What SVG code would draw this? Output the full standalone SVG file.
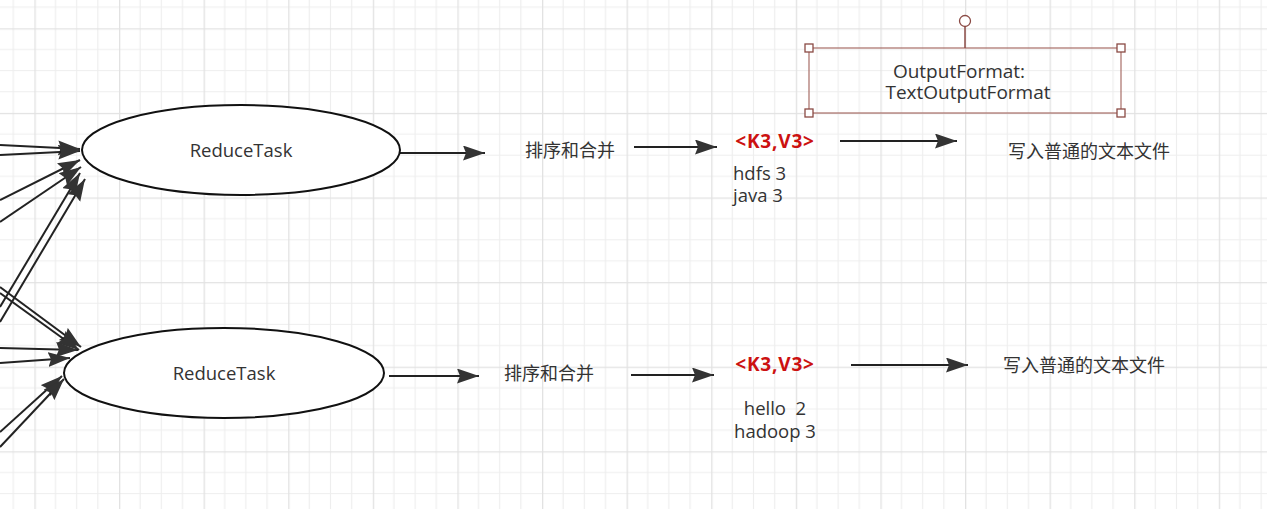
<svg xmlns="http://www.w3.org/2000/svg" width="1267" height="509" viewBox="0 0 1267 509">
<defs>
<pattern id="grid" patternUnits="userSpaceOnUse" x="34.4" y="28.3" width="84.6" height="84.6">
<path d="M21.15 0V84.6M42.3 0V84.6M63.45 0V84.6M0 21.15H84.6M0 42.3H84.6M0 63.45H84.6" stroke="#eeeeee" stroke-width="1.2" fill="none"/>
<path d="M0.6 0V84.6M0 0.6H84.6" stroke="#e2e2e2" stroke-width="1.4" fill="none"/>
</pattern>
<marker id="arr" markerUnits="userSpaceOnUse" markerWidth="24" markerHeight="16" refX="22" refY="7.5" orient="auto">
<path d="M0 0L22 7.5L0 15L3 7.5Z" fill="#333"/>
</marker>
</defs>
<style>
.edge{stroke:#222;stroke-width:2;fill:none;marker-end:url(#arr)}
.node{fill:#fff;stroke:#111;stroke-width:2}
.t{font-family:"Open Sans","Liberation Sans","Noto Sans CJK SC",sans-serif;font-size:18.5px;fill:#333}
.c{text-anchor:middle}
.cjk{font-family:"Noto Sans CJK SC",sans-serif;font-size:18px;fill:#333}
.kv{font-family:"Open Sans","Liberation Sans",sans-serif;font-size:19px;letter-spacing:0.8px;font-weight:bold;fill:#cc1111;text-anchor:middle}
.h{fill:#fff;stroke:#8a4a44;stroke-width:1.3}
</style>
<rect width="1267" height="509" fill="#fff"/>
<rect width="1267" height="509" fill="url(#grid)"/>
<g id="connectors">
<line class="edge" x1="0" y1="145" x2="80" y2="149"/>
<line class="edge" x1="0" y1="155" x2="80" y2="151"/>
<line class="edge" x1="0" y1="200" x2="80" y2="160"/>
<line class="edge" x1="0" y1="222" x2="81" y2="167"/>
<line class="edge" x1="0" y1="307" x2="80" y2="173"/>
<line class="edge" x1="0" y1="322" x2="85" y2="179"/>
<line class="edge" x1="0" y1="287" x2="81" y2="347"/>
<line class="edge" x1="0" y1="293" x2="79" y2="350"/>
<line class="edge" x1="0" y1="348" x2="78" y2="350"/>
<line class="edge" x1="0" y1="363" x2="70" y2="358"/>
<line class="edge" x1="0" y1="432" x2="62" y2="376"/>
<line class="edge" x1="0" y1="447" x2="64" y2="379"/>
<line class="edge" x1="400" y1="153" x2="485" y2="153"/>
<line class="edge" x1="634" y1="147" x2="717" y2="147"/>
<line class="edge" x1="840" y1="141" x2="957" y2="141"/>
<line class="edge" x1="389" y1="376" x2="479" y2="376"/>
<line class="edge" x1="631" y1="375" x2="714" y2="375"/>
<line class="edge" x1="851" y1="365" x2="968" y2="365"/>
</g>
<g id="reduce1">
<ellipse class="node" cx="241" cy="150" rx="159" ry="45"/>
<text class="t c" x="241" y="157">ReduceTask</text>
</g>
<g id="reduce2">
<ellipse class="node" cx="224" cy="373" rx="160" ry="45"/>
<text class="t c" x="224" y="380">ReduceTask</text>
</g>
<g id="sort1"><text class="cjk c" x="570" y="157">排序和合并</text></g>
<g id="sort2"><text class="cjk c" x="549" y="380">排序和合并</text></g>
<g id="kv1">
<text class="kv" x="775" y="148">&lt;K3,V3&gt;</text>
<text class="t" x="733" y="180">hdfs 3</text>
<text class="t" x="733" y="202">java 3</text>
</g>
<g id="kv2">
<text class="kv" x="775" y="371">&lt;K3,V3&gt;</text>
<text class="t c" x="775" y="415" xml:space="preserve">hello  2</text>
<text class="t c" x="775" y="438">hadoop 3</text>
</g>
<g id="write1"><text class="cjk c" x="1089" y="158">写入普通的文本文件</text></g>
<g id="write2"><text class="cjk c" x="1084" y="372">写入普通的文本文件</text></g>
<g id="outputformat">
<rect x="809" y="48" width="312" height="65" fill="none" stroke="#a86e68" stroke-width="1.2"/>
<line x1="965" y1="26" x2="965" y2="48" stroke="#8a4a44" stroke-width="1.5"/>
<circle class="h" cx="965" cy="21" r="5.5"/>
<rect class="h" x="805" y="44" width="8" height="8"/>
<rect class="h" x="1117" y="44" width="8" height="8"/>
<rect class="h" x="805" y="109" width="8" height="8"/>
<rect class="h" x="1117" y="109" width="8" height="8"/>
<text class="t c" x="959" y="78" style="font-size:19px">OutputFormat:</text>
<text class="t c" x="968" y="99" style="font-size:19px">TextOutputFormat</text>
</g>
</svg>
